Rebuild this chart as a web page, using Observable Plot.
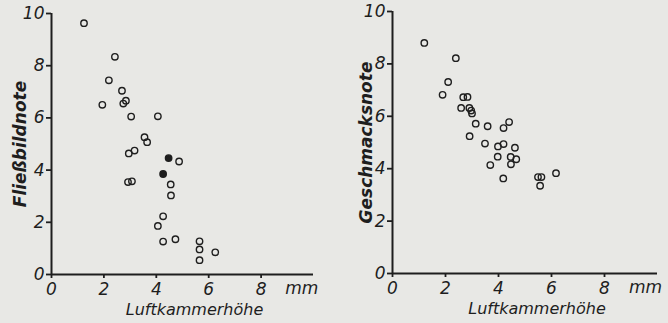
<!DOCTYPE html>
<html>
<head>
<meta charset="utf-8">
<script src="https://cdn.jsdelivr.net/npm/d3@7"></script>
<script src="https://cdn.jsdelivr.net/npm/@observablehq/plot@0.6"></script>
<style>
  html, body { margin: 0; padding: 0; background: #e8e8e5; }
  #wrap { display: flex; width: 668px; height: 323px; }
  svg { font-family: "DejaVu Sans", sans-serif; font-style: italic; }
</style>
</head>
<body>
<div id="wrap"></div>
<script>
// Left panel: Luftkammerhöhe (mm) vs Fließbildnote (open circles)
const leftX = [1.24, 2.42, 2.19, 1.94, 2.69, 2.84, 2.74, 3.04, 4.06, 3.55, 3.65, 2.95, 3.17, 4.87, 2.92, 3.07, 4.55, 4.56, 4.26, 4.06, 4.26, 4.73, 5.65, 5.65, 5.65, 6.25];
const leftY = [9.63, 8.34, 7.44, 6.50, 7.04, 6.66, 6.55, 6.05, 6.06, 5.26, 5.07, 4.64, 4.75, 4.33, 3.54, 3.57, 3.45, 3.03, 2.23, 1.86, 1.26, 1.35, 1.27, 0.96, 0.55, 0.85];
// Left panel: solid points
const leftFilledX = [4.47, 4.26];
const leftFilledY = [4.46, 3.85];
// Right panel: Luftkammerhöhe (mm) vs Geschmacksnote
const rightX = [1.20, 2.39, 2.10, 1.89, 2.67, 2.83, 2.59, 2.90, 2.97, 3.00, 3.14, 3.59, 4.19, 4.40, 2.91, 3.49, 3.98, 4.19, 4.62, 3.97, 4.46, 4.67, 3.69, 4.47, 4.18, 5.49, 5.62, 5.57, 6.17];
const rightY = [8.80, 8.22, 7.31, 6.82, 6.73, 6.74, 6.32, 6.32, 6.22, 6.11, 5.72, 5.62, 5.55, 5.78, 5.24, 4.96, 4.85, 4.94, 4.80, 4.46, 4.45, 4.36, 4.14, 4.17, 3.63, 3.68, 3.68, 3.35, 3.83];

const xTicks = [0, 2, 4, 6, 8];
const yTicks = [0, 2, 4, 6, 8, 10];
const unitLabel = "mm";
const unitPos = 9.55;
const xTitle = "Luftkammerhöhe";
const leftTitle = "Fließbildnote";
const rightTitle = "Geschmacksnote";
const ink = "#1e1e1e";

function panel({xs, ys, fx = [], fy = [], ytitle, titleDx, ml, mr, mt, mb}) {
  const pts = xs.map((x, i) => ({x, y: ys[i]}));
  const fpts = fx.map((x, i) => ({x, y: fy[i]}));
  return Plot.plot({
    width: 334, height: 323,
    marginLeft: ml, marginRight: mr, marginTop: mt, marginBottom: mb,
    style: {background: "transparent", color: ink, fontSize: "17px"},
    x: {domain: [0, 10]},
    y: {domain: [0, 10]},
    marks: [
      Plot.ruleY([0], {stroke: ink, strokeWidth: 2}),
      Plot.ruleX([0], {stroke: ink, strokeWidth: 2}),
      Plot.axisY({ticks: yTicks, tickSize: 5, tickPadding: 2, stroke: ink, strokeWidth: 1.8, fill: ink, label: null}),
      Plot.axisX({ticks: xTicks, tickSize: 4, tickPadding: 4, stroke: ink, strokeWidth: 1.8, fill: ink, label: null}),
      Plot.dot(pts, {x: "x", y: "y", r: 3.2, stroke: ink, strokeWidth: 1.4, fill: "none"}),
      Plot.dot(fpts, {x: "x", y: "y", r: 3.2, stroke: ink, strokeWidth: 1.4, fill: ink}),
      Plot.text([unitLabel], {x: unitPos, frameAnchor: "bottom", dy: 19, fill: ink, fontSize: 17}),
      Plot.text([xTitle], {frameAnchor: "bottom", dx: 12, dy: 40, fill: ink, fontSize: 16}),
      Plot.text([ytitle], {frameAnchor: "left", textAnchor: "middle", dx: titleDx, rotate: -90, fill: ink, fontSize: 17, fontWeight: "bold"})
    ]
  });
}

const wrap = document.getElementById("wrap");
wrap.appendChild(panel({xs: leftX, ys: leftY, fx: leftFilledX, fy: leftFilledY, ytitle: leftTitle, titleDx: -31, ml: 51, mr: 21, mt: 13, mb: 49}));
wrap.appendChild(panel({xs: rightX, ys: rightY, ytitle: rightTitle, titleDx: -26, ml: 58, mr: 11, mt: 11, mb: 50}));
</script>
</body>
</html>
